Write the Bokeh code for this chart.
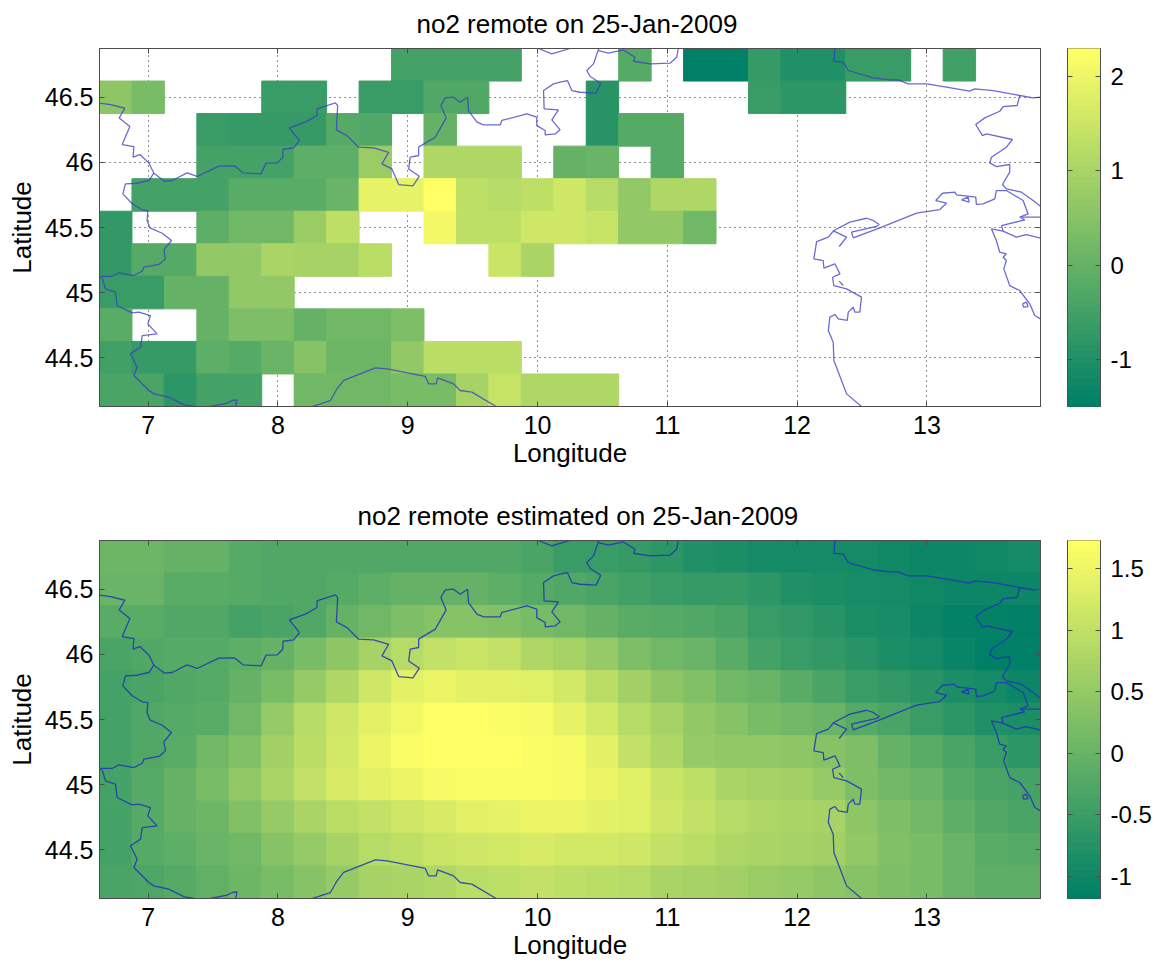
import numpy as np
from bokeh.embed import file_html
from bokeh.layouts import column, row
from bokeh.models import (ColumnDataSource, CustomJSTickFormatter, FixedTicker, LinearAxis,
                          LinearColorMapper, Range1d)
from bokeh.plotting import figure
from bokeh.resources import INLINE
from bokeh.transform import transform

_ = None
LON_EDGES = (6.625, 13.875)
LAT_EDGES = (44.125, 46.875)
CELL = 0.25
LONS = [6.75 + 0.25 * i for i in range(29)]
LATS = [46.75 - 0.25 * i for i in range(11)]

REMOTE = [
 [_,_,_,_,_,_,_,_,_,-.46,-.46,-.46,-.46,_,_,_,-.23,_,-1.5,-1.5,-.68,-.98,-.98,-.61,-.61,_,-.53,_,_],
 [.59,.29,_,_,_,-.61,-.61,_,-.61,-.61,-.31,-.31,_,_,_,-.90,_,_,_,_,-.61,-.83,-.83,_,_,_,_,_,_],
 [_,_,_,-.61,-.68,-.68,-.68,-.23,-.31,_,-.01,_,_,_,_,-.90,-.23,-.23,_,_,_,_,_,_,_,_,_,_,_],
 [_,_,_,-.46,-.46,-.46,-.08,-.08,.81,_,1.11,1.11,1.11,_,-.01,.06,_,-.23,_,_,_,_,_,_,_,_,_,_,_],
 [_,-.46,-.46,-.46,-.16,-.16,-.16,.06,1.93,1.93,2.30,1.33,1.18,1.33,1.56,1.18,.66,1.11,1.11,_,_,_,_,_,_,_,_,_,_],
 [-.75,_,_,-.08,.21,.21,.81,1.33,_,_,2.08,1.33,1.33,1.56,1.56,1.41,.66,.66,.21,_,_,_,_,_,_,_,_,_,_],
 [-.75,-.23,-.23,.66,.66,1.03,.96,.96,1.26,_,_,_,1.48,1.03,_,_,_,_,_,_,_,_,_,_,_,_,_,_,_],
 [-.61,-.61,-.01,-.01,.66,.66,_,_,_,_,_,_,_,_,_,_,_,_,_,_,_,_,_,_,_,_,_,_,_],
 [-.16,_,_,-.01,.36,.36,-.01,.21,.21,.36,_,_,_,_,_,_,_,_,_,_,_,_,_,_,_,_,_,_,_],
 [-.53,-.68,-.68,-.08,-.23,.06,.51,.14,.14,.66,1.26,1.26,1.26,_,_,_,_,_,_,_,_,_,_,_,_,_,_,_,_],
 [-.38,-.38,-.83,-.46,-.46,_,.21,.21,.21,.29,.29,.96,1.41,1.11,1.11,1.11,_,_,_,_,_,_,_,_,_,_,_,_,_],
]

ESTIMATED = [
 [.07,.07,-.04,-.04,-.21,-.27,-.27,-.27,-.27,-.27,-.27,-.27,-.27,-.32,-.50,-.50,-.55,-.67,-.78,-.84,-.93,-.95,-.95,-.95,-.97,-1.01,-1.01,-.97,-.95],
 [.02,.02,-.15,-.15,-.21,-.24,-.24,-.18,-.10,-.04,-.02,-.04,-.10,-.18,-.27,-.36,-.44,-.50,-.55,-.55,-.67,-.78,-.86,-.89,-.95,-.97,-1.01,-1.04,-1.04],
 [-.15,-.15,-.27,-.27,-.38,-.36,-.24,-.04,.10,.25,.36,.36,.30,.19,.13,-.04,-.15,-.21,-.27,-.36,-.50,-.61,-.72,-.84,-.89,-1.04,-1.09,-1.12,-1.15],
 [-.32,-.27,-.21,-.21,-.10,-.04,.19,.42,.70,.87,1.04,1.10,1.04,.82,.70,.53,.25,.13,.02,-.15,-.38,-.50,-.61,-.72,-.84,-.95,-1.07,-1.15,-1.18],
 [-.38,-.32,-.27,-.21,-.04,.19,.53,.82,1.16,1.39,1.50,1.39,1.39,1.33,1.22,.93,.65,.42,.30,.13,.02,-.15,-.32,-.50,-.61,-.72,-.84,-.95,-1.01],
 [-.38,-.27,-.18,-.15,.13,.53,.87,1.16,1.39,1.56,1.73,1.73,1.67,1.62,1.44,1.22,.87,.70,.47,.36,.19,.13,.02,-.21,-.32,-.50,-.67,-.78,-.86],
 [-.38,-.24,-.15,.13,.30,.65,.93,1.22,1.50,1.65,1.73,1.73,1.70,1.65,1.62,1.39,1.04,.82,.53,.47,.47,.42,.36,.25,-.04,-.15,-.32,-.50,-.67],
 [-.38,-.21,-.04,.19,.47,.76,1.04,1.27,1.39,1.50,1.62,1.67,1.67,1.65,1.62,1.50,1.33,1.10,.99,.76,.70,.65,.53,.25,.13,.02,-.21,-.36,-.40],
 [-.38,-.21,-.04,.07,.30,.53,.76,.93,1.04,1.16,1.27,1.39,1.44,1.50,1.50,1.39,1.33,1.16,1.04,.87,.82,.76,.70,.42,.25,.13,-.10,-.24,-.36],
 [-.38,-.21,-.13,.02,.13,.36,.53,.70,.87,.99,1.10,1.16,1.22,1.27,1.22,1.22,1.16,1.04,.93,.82,.76,.70,.65,.47,.30,.19,.02,-.15,-.18],
 [-.36,-.29,-.18,-.06,.05,.19,.36,.53,.70,.76,.82,.93,.99,1.04,.99,.93,.87,.76,.70,.65,.59,.53,.42,.36,.25,.19,.02,-.10,-.13],
]

REMOTE_RANGE = (-1.5, 2.30)
ESTIMATED_RANGE = (-1.18, 1.73)
REMOTE_TICKS = {-1: "-1", 0: "0", 1: "1", 2: "2"}
ESTIMATED_TICKS = {-1: "-1", -0.5: "-0.5", 0: "0", 0.5: "0.5", 1: "1", 1.5: "1.5"}
LON_TICKS = {7: "7", 8: "8", 9: "9", 10: "10", 11: "11", 12: "12", 13: "13"}
LAT_TICKS = {44.5: "44.5", 45: "45", 45.5: "45.5", 46: "46", 46.5: "46.5"}

BORDERS = [
 # Alpine arc
 [(6.625,46.455),(6.710,46.444),(6.820,46.416),(6.777,46.342),(6.859,46.276),(6.800,46.137),(6.890,46.122),
  (6.884,46.040),(6.936,46.060),(7.005,45.996),(7.044,45.917),(7.126,45.856),(7.185,45.861),(7.300,45.920),
  (7.377,45.892),(7.544,45.971),(7.667,45.973),(7.731,45.920),(7.870,45.912),(7.908,45.994),(7.993,45.996),
  (8.037,46.040),(8.039,46.101),(8.121,46.112),(8.165,46.168),(8.088,46.265),(8.211,46.309),(8.301,46.360),
  (8.301,46.411),(8.442,46.457),(8.460,46.437),(8.450,46.250),(8.532,46.206),(8.622,46.117),(8.737,46.112),
  (8.853,46.078),(8.801,45.989),(8.878,45.950),(8.930,45.830),(9.040,45.820),(9.089,45.894),(9.007,45.950),
  (9.019,46.040),(9.084,46.053),(9.084,46.117),(9.212,46.194),(9.296,46.342),(9.255,46.437),(9.289,46.496),
  (9.353,46.501),(9.404,46.462),(9.461,46.501),(9.468,46.398),(9.533,46.309),(9.584,46.288),(9.712,46.288),
  (9.725,46.322),(9.917,46.373),(9.994,46.347),(9.994,46.283),(10.059,46.245),(10.059,46.211),(10.136,46.219),
  (10.174,46.250),(10.110,46.327),(10.161,46.404),(10.051,46.411),(10.046,46.552),(10.123,46.603),(10.174,46.616),
  (10.230,46.629),(10.264,46.552),(10.328,46.539),(10.451,46.532),(10.487,46.608),(10.405,46.660),(10.379,46.706),
  (10.431,46.757),(10.472,46.875)],
 [(10.007,46.875),(10.110,46.834),(10.251,46.875)],
 [(10.469,46.859),(10.546,46.839),(10.662,46.864),(10.751,46.808),(10.739,46.777),(10.867,46.757),(11.021,46.762),
  (11.072,46.808),(11.085,46.875)],
 [(12.291,46.875),(12.283,46.777),(12.355,46.770),(12.394,46.706),(12.586,46.649),(12.714,46.634),(12.778,46.634),
  (12.855,46.603),(12.997,46.603),(13.151,46.578),(13.330,46.547),(13.369,46.565),(13.510,46.552),(13.715,46.514),
  (13.818,46.496),(13.875,46.501)],
 [(13.715,46.514),(13.695,46.437),(13.587,46.429),(13.561,46.393),(13.446,46.342),(13.376,46.291),(13.428,46.206),
  (13.458,46.219),(13.659,46.176),(13.612,46.117),(13.497,46.040),(13.484,45.996),(13.535,45.968),(13.638,45.984),
  (13.638,45.925),(13.582,45.830),(13.612,45.797),(13.728,45.771),(13.818,45.707),(13.875,45.664)],
 # Adriatic coast
 [(12.496,44.125),(12.381,44.222),(12.283,44.478),(12.278,44.619),(12.240,44.709),(12.252,44.811),(12.291,44.832),
  (12.317,44.798),(12.386,44.786),(12.394,44.850),(12.432,44.888),(12.445,44.850),(12.483,44.850),(12.496,44.965),
  (12.381,45.029),(12.283,45.054),(12.273,45.118),(12.330,45.144),(12.291,45.221),(12.206,45.188),(12.201,45.246),
  (12.129,45.259),(12.150,45.392),(12.240,45.426),(12.283,45.477),(12.406,45.541),(12.535,45.571),(12.586,45.554),
  (12.632,45.523),(12.612,45.508),(12.419,45.464),(12.432,45.420),(12.637,45.497),(12.920,45.610),(13.099,45.638),
  (13.151,45.687),(13.068,45.707),(13.120,45.763),(13.215,45.771),(13.228,45.751),(13.376,45.733),(13.381,45.677),
  (13.433,45.682),(13.523,45.720),(13.535,45.784),(13.612,45.784),(13.741,45.707),(13.779,45.605),(13.715,45.579),
  (13.754,45.559),(13.574,45.515),(13.587,45.472),(13.497,45.490),(13.535,45.400),(13.561,45.310),(13.612,45.298),
  (13.587,45.272),(13.612,45.246),(13.592,45.182),(13.638,45.054),(13.715,45.016),(13.792,44.914),(13.831,44.824),
  (13.875,44.798)],
 [(12.283,45.472),(12.381,45.426),(12.324,45.354)],
 [(13.728,45.579),(13.875,45.579)],
 [(13.587,45.472),(13.689,45.426),(13.766,45.446),(13.875,45.418)],
 [(13.266,45.712),(13.317,45.733),(13.325,45.694),(13.266,45.712)],
 [(13.736,44.914),(13.766,44.926),(13.779,44.893),(13.746,44.888),(13.736,44.914)],
 [(12.324,45.088),(12.355,45.054)],
 # Ligurian coast
 [(8.262,44.125),(8.404,44.171),(8.455,44.261),(8.506,44.325),(8.750,44.422),(8.840,44.414),(9.135,44.356),
  (9.160,44.299),(9.219,44.299),(9.230,44.345),(9.353,44.299),(9.404,44.248),(9.494,44.235),(9.681,44.125)],
 # Western border
 [(7.044,45.917),(7.005,45.861),(6.915,45.840),(6.825,45.835),(6.805,45.758),(6.877,45.682),(6.954,45.636),
  (6.997,45.630),(6.992,45.554),(7.013,45.497),(7.108,45.456),(7.180,45.400),(7.121,45.328),(7.133,45.259),
  (7.082,45.216),(6.967,45.195),(6.954,45.164),(6.890,45.131),(6.774,45.152),(6.723,45.124),(6.646,45.124),(6.625,45.113)],
 [(6.646,45.113),(6.671,45.029),(6.748,45.003),(6.761,44.901),(6.877,44.844),(6.928,44.850),(7.018,44.824),
  (6.997,44.760),(7.069,44.683),(6.954,44.670),(6.941,44.581),(6.864,44.530),(6.915,44.427),(6.890,44.363),
  (7.005,44.248),(7.044,44.222),(7.159,44.197),(7.274,44.140),(7.351,44.125)],
 [(7.480,44.125),(7.608,44.151),(7.647,44.171),(7.685,44.176),(7.672,44.125)],
]

FONT = "Liberation Sans"
INK = "#4d4d4d"
TICK_SIZE = "25px"
BAR_TICK_SIZE = "24px"
LABEL_SIZE = "26px"
TITLE_SIZE = "26px"

SUMMER = ["#%02x%02x66" % (round(255 * t), round(255 * (0.5 + t / 2))) for t in np.linspace(0, 1, 64)]
BLANK = CustomJSTickFormatter(code="return ''")


def blank_axis(ticks):
    return LinearAxis(ticker=FixedTicker(ticks=list(ticks)), formatter=BLANK, major_tick_in=5, major_tick_out=0,
                      minor_tick_line_color=None, axis_line_color=INK, major_tick_line_color=INK,
                      major_label_standoff=0, major_label_text_font_size="1px")


def panel(grid, vrange, title, title_offset, top_border, bottom_border, line_color, line_alpha, line_width):
    p = figure(width=1048, height=top_border + 358 + bottom_border, frame_height=358, frame_width=941,
               output_backend="svg", toolbar_location=None,
               x_range=Range1d(*LON_EDGES), y_range=Range1d(*LAT_EDGES), min_border_left=99, min_border_right=8,
               min_border_top=top_border, min_border_bottom=bottom_border, x_axis_label="Longitude", y_axis_label="Latitude",
               background_fill_color="white", outline_line_color=INK, outline_line_width=1)
    mapper = LinearColorMapper(palette=SUMMER, low=vrange[0], high=vrange[1])
    xs, ys, vs = [], [], []
    for lat, cells in zip(LATS, grid):
        for lon, v in zip(LONS, cells):
            if v is not None:
                xs.append(lon); ys.append(lat); vs.append(v)
    src = ColumnDataSource(dict(x=xs, y=ys, v=vs))
    p.rect("x", "y", width=CELL, height=CELL, source=src, fill_color=transform("v", mapper),
           line_color=transform("v", mapper), line_width=1)
    for line in BORDERS:
        p.line([q[0] for q in line], [q[1] for q in line], line_color=line_color, line_alpha=line_alpha,
               line_width=line_width)

    for ax, ticks, labels in ((p.xaxis[0], LON_TICKS, LON_TICKS), (p.yaxis[0], LAT_TICKS, LAT_TICKS)):
        ax.ticker = FixedTicker(ticks=list(ticks))
        ax.major_label_overrides = labels
        ax.major_label_text_font = FONT
        ax.major_label_text_font_size = TICK_SIZE
        ax.major_label_text_color = "black"
        ax.axis_label_text_font = FONT
        ax.axis_label_text_font_size = LABEL_SIZE
        ax.axis_label_text_font_style = "normal"
        ax.axis_label_text_color = "black"
        ax.major_tick_in = 5
        ax.major_tick_out = 0
        ax.minor_tick_line_color = None
        ax.axis_line_color = INK
        ax.major_tick_line_color = INK
    p.xaxis[0].major_label_standoff = 9
    p.xaxis[0].axis_label_standoff = 1
    p.yaxis[0].major_label_standoff = 6
    p.yaxis[0].axis_label_standoff = 5

    for g in (p.xgrid[0], p.ygrid[0]):
        g.grid_line_color = "#222222"
        g.grid_line_dash = "1 4"
        g.grid_line_width = 1
    p.xgrid[0].ticker = FixedTicker(ticks=list(LON_TICKS))
    p.ygrid[0].ticker = FixedTicker(ticks=list(LAT_TICKS))

    p.add_layout(blank_axis(LON_TICKS), "above")
    p.add_layout(blank_axis(LAT_TICKS), "right")

    p.title.text = title
    p.title.align = "left"
    p.title.offset = title_offset
    p.title.vertical_align = "top"
    p.title.standoff = 16
    p.title.text_font = FONT
    p.title.text_font_size = TITLE_SIZE
    p.title.text_font_style = "normal"
    p.title.text_color = "black"
    return p


def colorbar(vrange, labels, top_border, bottom_border):
    c = figure(width=102, height=top_border + 358 + bottom_border, frame_height=358, frame_width=33,
               output_backend="svg", toolbar_location=None,
               x_range=Range1d(0, 1), y_range=Range1d(*vrange), x_axis_type=None, y_axis_location="right",
               min_border_left=19, min_border_right=50, min_border_top=top_border, min_border_bottom=bottom_border,
               outline_line_color=INK, outline_line_width=1)
    c.grid.visible = False
    edges = np.linspace(vrange[0], vrange[1], len(SUMMER) + 1)
    c.quad(left=0, right=1, bottom=edges[:-1], top=edges[1:], fill_color=SUMMER, line_color=SUMMER, line_width=1)
    ax = c.yaxis[0]
    ax.ticker = FixedTicker(ticks=list(labels))
    ax.major_label_overrides = labels
    ax.major_label_text_font = FONT
    ax.major_label_text_font_size = BAR_TICK_SIZE
    ax.major_label_text_color = "black"
    ax.major_label_standoff = 10
    ax.major_tick_in = 5
    ax.major_tick_out = 0
    ax.minor_tick_line_color = None
    ax.axis_line_color = INK
    ax.major_tick_line_color = INK
    c.add_layout(blank_axis(labels), "left")
    return c


TOP_T, TOP_B = 48, 70
BOT_T, BOT_B = 64, 60
p1 = panel(REMOTE, REMOTE_RANGE, "no2 remote on 25-Jan-2009", 317, TOP_T, TOP_B, "#3a3ac4", 0.75, 1.3)
p2 = panel(ESTIMATED, ESTIMATED_RANGE, "no2 remote estimated on 25-Jan-2009", 258, BOT_T, BOT_B, "#1f35b5", 0.85, 1.3)
c1 = colorbar(REMOTE_RANGE, REMOTE_TICKS, TOP_T, TOP_B)
c2 = colorbar(ESTIMATED_RANGE, ESTIMATED_TICKS, BOT_T, BOT_B)

layout = column(row(p1, c1), row(p2, c2))
open("out.html", "w").write(file_html(layout, INLINE))
